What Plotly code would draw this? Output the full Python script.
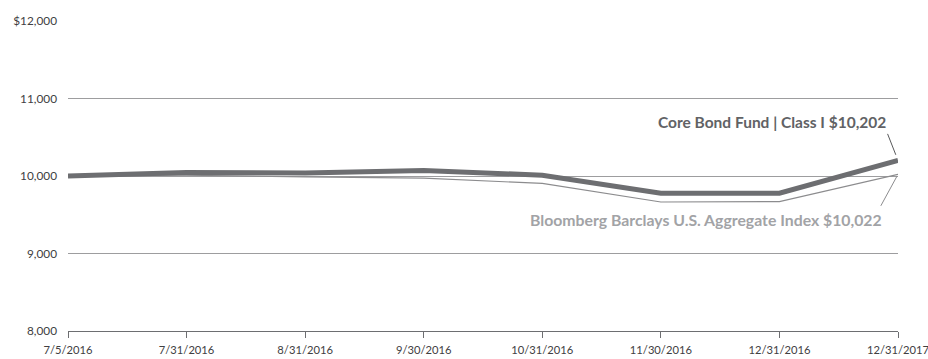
import plotly.graph_objects as go

dates = ["7/5/2016", "7/31/2016", "8/31/2016", "9/30/2016", "10/31/2016",
         "11/30/2016", "12/31/2016", "12/31/2017"]
fund = [10000, 10045, 10040, 10072, 10010, 9778, 9778, 10202]
index = [10000, 10010, 9990, 9972, 9905, 9665, 9670, 10022]
yticks = [8000, 9000, 10000, 11000, 12000]
ytext = ["8,000", "9,000", "10,000", "11,000", "$12,000"]

FONT = "Lato, 'Open Sans', sans-serif"

fig = go.Figure()
fig.add_trace(go.Scatter(x=dates, y=index, mode="lines",
                         line=dict(color="#8c8c8e", width=1.2), hoverinfo="skip"))
fig.add_trace(go.Scatter(x=dates, y=fund, mode="lines",
                         line=dict(color="#6d6e71", width=5), hoverinfo="skip"))

fig.add_annotation(x=dates[-1], y=fund[-1], text="Core Bond Fund | Class I $10,202",
                   showarrow=False, xanchor="right", yanchor="middle",
                   xshift=-10, yshift=38,
                   font=dict(family=FONT, size=15.5, color="#616265", weight="bold"))
fig.add_annotation(x=dates[-1], y=fund[-1], text="", showarrow=True,
                   ax=-11, ay=-28, axref="pixel", ayref="pixel",
                   arrowhead=0, arrowwidth=1, arrowcolor="#58595b", standoff=6)
fig.add_annotation(x=dates[-1], y=index[-1], text="Bloomberg Barclays U.S. Aggregate Index $10,022",
                   showarrow=False, xanchor="right", yanchor="middle",
                   xshift=-14, yshift=-45,
                   font=dict(family=FONT, size=15.8, color="#a2a3a6", weight="bold"))
fig.add_annotation(x=dates[-1], y=index[-1], text="", showarrow=True,
                   ax=-18, ay=33, axref="pixel", ayref="pixel",
                   arrowhead=0, arrowwidth=1, arrowcolor="#8c8c8e", standoff=2)

fig.update_layout(
    width=928, height=359,
    margin=dict(l=68, r=30, t=21, b=28),
    paper_bgcolor="white", plot_bgcolor="white",
    showlegend=False,
    font=dict(family=FONT, size=12, color="#414042"),
    xaxis=dict(type="category", range=[0, len(dates) - 1], automargin=False,
               showgrid=False, zeroline=False,
               showline=True, linecolor="#6d6e71", linewidth=1,
               ticks="outside", ticklen=6, tickcolor="#6d6e71", tickwidth=1,
               ticklabelstandoff=3,
               tickfont=dict(family=FONT, size=11.2, color="#414042")),
    yaxis=dict(range=[8000, 12001], tickvals=yticks, ticktext=ytext, automargin=False,
               showgrid=True, gridcolor="#9d9d9f", gridwidth=1,
               zeroline=False, showline=False, ticks="",
               ticklabelstandoff=10,
               tickfont=dict(family=FONT, size=11.8, color="#414042")),
)

fig.write_html("out.html")
